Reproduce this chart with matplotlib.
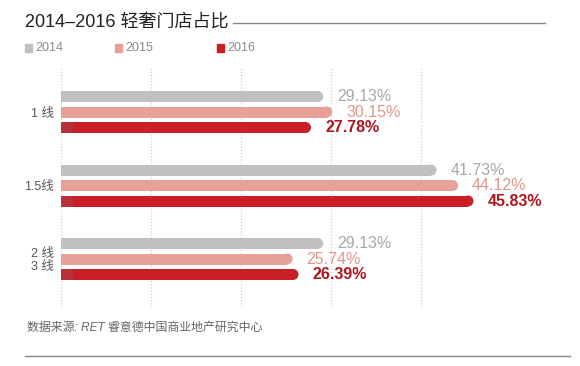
import matplotlib
matplotlib.use("Agg")
import matplotlib.pyplot as plt
from matplotlib.lines import Line2D
from matplotlib.patches import Ellipse

plt.rcParams['font.family'] = ['Liberation Sans', 'Noto Sans CJK SC', 'DejaVu Sans']

# ---- data ----
categories = ["1 线", "1.5线", "2 线\n3 线"]
years = ["2014", "2015", "2016"]
values_2014 = [29.13, 41.73, 29.13]
values_2015 = [30.15, 44.12, 25.74]
values_2016 = [27.78, 45.83, 26.39]
title = "2014–2016 轻奢门店占比"
source = "数据来源: RET 睿意德中国商业地产研究中心"

# ---- style ----
bar_colors = ["#c0c0c0", "#e8a199", "#cb1f28"]
label_colors = ["#a8a8a8", "#e0968c", "#b0151f"]
label_weights = ["normal", "normal", "bold"]

W, H = 580, 366
fig = plt.figure(figsize=(W / 100, H / 100), dpi=100)
fig.patch.set_facecolor("white")

def fx(px):
    return px / W

def fy(py):
    return 1 - py / H

ax_left, ax_right, ax_top, ax_bot = 61, 545, 68, 307
px_per_unit = 9.0
ax = fig.add_axes([fx(ax_left), fy(ax_bot), (ax_right - ax_left) / W, (ax_bot - ax_top) / H])
ax.set_xlim(0, (ax_right - ax_left) / px_per_unit)
ax.set_ylim(ax_bot, ax_top)
for s in ax.spines.values():
    s.set_visible(False)

# grid
for g in [0, 10, 20, 30, 40]:
    ax.axvline(g, color="#cfcfcf", lw=0.9, ls=(0, (1, 1.5)), zorder=0)

group_first = 112
group_step = 73.5
bar_step = 15.5
bar_h = 11
r = (bar_h / 2) / px_per_unit

series = [values_2014, values_2015, values_2016]
centers = []
for gi, cat in enumerate(categories):
    c = group_first + gi * group_step
    centers.append(c)
    for si, vals in enumerate(series):
        v = vals[gi]
        y = c + (si - 1) * bar_step
        ax.barh(y, v - r, height=bar_h, left=0, color=bar_colors[si], zorder=2,
                linewidth=0)
        ax.add_patch(Ellipse((v - r, y), width=2 * r, height=bar_h,
                             facecolor=bar_colors[si], edgecolor="none", zorder=2))
        if si == 2:
            ax.barh(y, 12 / px_per_unit, height=bar_h, left=0, color="#b8303a",
                    zorder=3, linewidth=0)
        ax.text(v + 14 / px_per_unit, y, f"{v:.2f}%", color=label_colors[si],
                fontsize=11.5, fontweight=label_weights[si], va="center", ha="left",
                zorder=4)

ax.set_xticks([])
ax.set_yticks(centers)
ax.set_yticklabels(categories, fontsize=9, color="#555555", linespacing=1.1)
ax.tick_params(axis="y", length=0, pad=5)

# title and rule
fig.text(fx(25), fy(22), title, fontsize=13, color="#222222", va="center", ha="left")
fig.add_artist(Line2D([fx(233), fx(545)], [fy(23), fy(23)], color="#888888", lw=1))

# legend
leg_x = [25, 115, 217]
for i, yr in enumerate(years):
    fig.add_artist(plt.Rectangle((fx(leg_x[i]), fy(51.5)), 7 / W, 7 / H,
                                 color=bar_colors[i], transform=fig.transFigure))
    fig.text(fx(leg_x[i] + 10), fy(48), yr, fontsize=9, color="#8a8a8a",
             va="center", ha="left")

# source + bottom rule
fig.text(fx(27), fy(328), source, fontsize=8.6, color="#666666", style="italic",
         va="center", ha="left")
fig.add_artist(Line2D([fx(25), fx(570)], [fy(356), fy(356)], color="#888888", lw=1))

fig.savefig("out.png", dpi=100, facecolor="white")
